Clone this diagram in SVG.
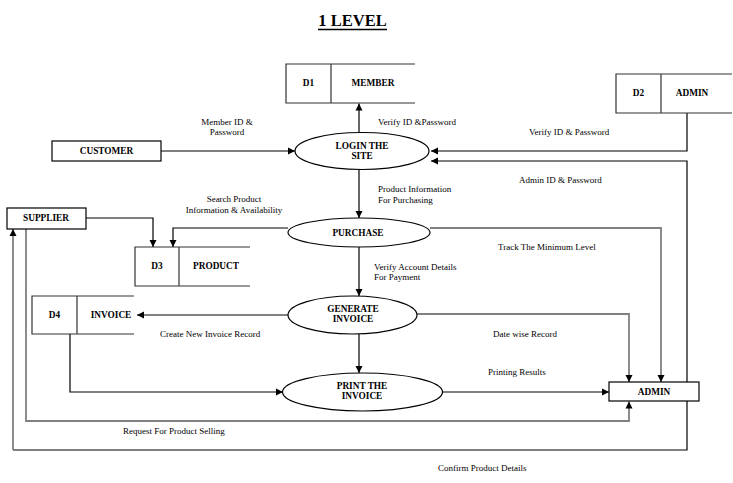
<svg xmlns="http://www.w3.org/2000/svg" width="733" height="483" viewBox="0 0 733 483">
<defs>
<marker id="ah" markerWidth="8" markerHeight="8" refX="7" refY="4" orient="auto" markerUnits="userSpaceOnUse">
<path d="M0,0.5 L7,4 L0,7.5 Z" fill="#000"/>
</marker>
<style>
text{font-family:"Liberation Serif","Times New Roman",serif;fill:#000}
.t{font-size:9px}
.b{font-size:9.3px;font-weight:bold}
.title{font-size:16.5px;font-weight:bold}
.box{fill:#fff;stroke:#000;stroke-width:1.2}
.st{fill:none;stroke:#333;stroke-width:1.2}
.c{fill:none;stroke:#000;stroke-width:1.2}
.g{fill:none;stroke:#808080;stroke-width:1.8}
.a{marker-end:url(#ah)}
</style>
</defs>
<rect width="733" height="483" fill="#fff"/>
<text class="title" x="352.5" y="26" text-anchor="middle">1 LEVEL</text>
<line x1="318" y1="29.5" x2="387" y2="29.5" stroke="#000" stroke-width="1.6"/>

<g id="connectors">
<path class="c a" d="M161,151 H295"/>
<path class="c a" d="M359,132 V103.5"/>
<path class="c a" d="M687,113 V151 H431"/>
<path class="c a" d="M687,382 V161 H431"/>
<path class="c a" d="M359,170 V218"/>
<path class="c a" d="M288,228 H173 V247"/>
<path class="c a" d="M86,218 H153 V247"/>
<path class="g a" d="M430,228 H661 V382"/>
<path class="c a" d="M359,247 V296"/>
<path class="g a" d="M288,315 H137"/>
<path class="g a" d="M417,314 H629 V382"/>
<path class="c a" d="M359,334 V373"/>
<path class="c a" d="M70,334 V392 H283"/>
<path class="c a" d="M443,392 H609"/>
<path class="g a" d="M26,229 V421 H629 V401.5"/>
<path class="c" d="M687,401 V450 H13"/>
<path class="g a" d="M13,450 V229"/>
</g>

<g id="D1">
<path class="st" d="M415,64 H286 V103 H415 M331,64 V103"/>
<text class="b" x="308.5" y="86" text-anchor="middle">D1</text>
<text class="b" x="373" y="86" text-anchor="middle">MEMBER</text>
</g>
<g id="D2">
<path class="st" d="M732,74 H616 V113 H732 M661,74 V113"/>
<text class="b" x="638.5" y="96" text-anchor="middle">D2</text>
<text class="b" x="692" y="96" text-anchor="middle">ADMIN</text>
</g>
<g id="D3">
<path class="st" d="M250,247 H135 V286 H250 M179,247 V286"/>
<text class="b" x="157" y="269" text-anchor="middle">D3</text>
<text class="b" x="216" y="269" text-anchor="middle">PRODUCT</text>
</g>
<g id="D4">
<path class="st" d="M134,296 H32 V334 H134 M77,296 V334"/>
<text class="b" x="54.5" y="317.5" text-anchor="middle">D4</text>
<text class="b" x="111" y="317.5" text-anchor="middle">INVOICE</text>
</g>
<g id="customer">
<rect class="box" x="52" y="141" width="109" height="20"/>
<text class="b" x="106.5" y="154" text-anchor="middle">CUSTOMER</text>
</g>
<g id="supplier">
<rect class="box" x="7" y="208" width="79" height="21"/>
<text class="b" x="46" y="221" text-anchor="middle">SUPPLIER</text>
</g>
<g id="admin">
<rect class="box" x="609" y="382" width="90" height="19"/>
<text class="b" x="654" y="394.5" text-anchor="middle">ADMIN</text>
</g>
<g id="login">
<ellipse class="box" cx="362" cy="151" rx="67" ry="18.5"/>
<text class="b" x="362" y="148.5" text-anchor="middle">LOGIN THE</text>
<text class="b" x="362" y="158.5" text-anchor="middle">SITE</text>
</g>
<g id="purchase">
<ellipse class="box" cx="359" cy="232.5" rx="71" ry="14.5"/>
<text class="b" x="358" y="235.5" text-anchor="middle">PURCHASE</text>
</g>
<g id="generate">
<ellipse class="box" cx="352.5" cy="315" rx="64.5" ry="19"/>
<text class="b" x="353" y="312" text-anchor="middle">GENERATE</text>
<text class="b" x="353" y="322" text-anchor="middle">INVOICE</text>
</g>
<g id="print">
<ellipse class="box" cx="362.5" cy="392" rx="80" ry="19"/>
<text class="b" x="362" y="389" text-anchor="middle">PRINT THE</text>
<text class="b" x="362" y="399" text-anchor="middle">INVOICE</text>
</g>

<g id="labels">
<text class="t" x="227" y="125" text-anchor="middle">Member ID &amp;</text>
<text class="t" x="227" y="135" text-anchor="middle">Password</text>
<text class="t" x="378" y="125">Verify ID &amp;Password</text>
<text class="t" x="529" y="134.5">Verify ID &amp; Password</text>
<text class="t" x="519" y="182.5">Admin ID &amp; Password</text>
<text class="t" x="234" y="202" text-anchor="middle">Search Product</text>
<text class="t" x="234" y="212.5" text-anchor="middle">Information &amp; Availability</text>
<text class="t" x="378" y="192">Product Information</text>
<text class="t" x="378" y="202.5">For Purchasing</text>
<text class="t" x="498" y="250">Track The Minimum Level</text>
<text class="t" x="374" y="269.5">Verify Account Details</text>
<text class="t" x="374" y="279.5">For Payment</text>
<text class="t" x="160" y="337">Create New Invoice Record</text>
<text class="t" x="493" y="337">Date wise Record</text>
<text class="t" x="488" y="374.5">Printing Results</text>
<text class="t" x="123" y="433.5">Request For Product Selling</text>
<text class="t" x="438" y="471">Confirm Product Details</text>
</g>
</svg>
